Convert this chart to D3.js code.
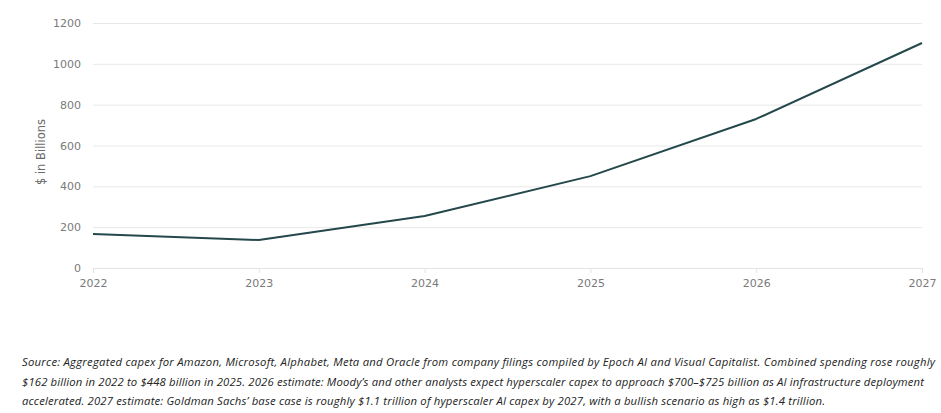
<!DOCTYPE html>
<html>
<head>
<meta charset="utf-8">
<script src="https://cdn.jsdelivr.net/npm/d3@7"></script>
<style>
  body { margin: 0; background: #fff; }
  svg { display: block; font-family: "Open Sans", sans-serif; }
</style>
</head>
<body>
<svg id="chart" width="941" height="413"></svg>
<script>
// hyperscaler capex, $ in billions
const years = [2022, 2023, 2024, 2025, 2026, 2027];
const capex = [166, 137, 255, 450, 730, 1102];
const yTicks = [0, 200, 400, 600, 800, 1000, 1200];
const sourceLines = [
    "Source: Aggregated capex for Amazon, Microsoft, Alphabet, Meta and Oracle from company filings compiled by Epoch AI and Visual Capitalist. Combined spending rose roughly",
    "$162 billion in 2022 to $448 billion in 2025. 2026 estimate: Moody’s and other analysts expect hyperscaler capex to approach $700–$725 billion as AI infrastructure deployment",
    "accelerated. 2027 estimate: Goldman Sachs’ base case is roughly $1.1 trillion of hyperscaler AI capex by 2027, with a bullish scenario as high as $1.4 trillion."
];
// rough widths of each note line in the picture
const sourceWidths = [913, 902, 803];

const data = years.map((y, i) => ({year: y, value: capex[i]}));

const margin = {top: 23, right: 19, bottom: 145, left: 93};
const svg = d3.select("#chart");
const width = +svg.attr("width");
const height = +svg.attr("height");
const tickFont = "DejaVu Sans, sans-serif";

const x = d3.scaleLinear()
    .domain([2022, 2027])
    .range([margin.left, width - margin.right]);

const y = d3.scaleLinear()
    .domain([0, 1200])
    .range([height - margin.bottom, margin.top]);

// grid lines + y labels
const yAxis = svg.append("g")
    .attr("transform", "translate(" + margin.left + ",0)")
    .call(d3.axisLeft(y).tickValues(yTicks).tickFormat(d3.format("d"))
        .tickSize(-(width - margin.left - margin.right)).tickPadding(12));
yAxis.select(".domain").remove();
yAxis.selectAll(".tick line").attr("stroke", "#e8e8e8").attr("stroke-width", 1);
yAxis.selectAll(".tick text")
    .attr("fill", "#7a7a7a")
    .attr("font-size", 11)
    .attr("font-family", tickFont);

// x axis
const xAxis = svg.append("g")
    .attr("transform", "translate(0," + (height - margin.bottom) + ")")
    .call(d3.axisBottom(x).tickValues(years).tickFormat(d3.format("d")).tickSize(5).tickPadding(6));
xAxis.select(".domain").attr("stroke", "#e3e3e3");
xAxis.selectAll(".tick line").attr("stroke", "#e3e3e3");
xAxis.selectAll(".tick text")
    .attr("fill", "#7a7a7a")
    .attr("font-size", 11)
    .attr("font-family", tickFont);

// y axis title
svg.append("text")
    .attr("transform", "translate(45,152) rotate(-90)")
    .attr("text-anchor", "middle")
    .attr("fill", "#6a6a6a")
    .attr("font-size", 11.5)
    .attr("font-family", tickFont)
    .text("$ in Billions");

// the line
const line = d3.line()
    .x(d => x(d.year))
    .y(d => y(d.value));

svg.append("path")
    .datum(data)
    .attr("fill", "none")
    .attr("stroke", "#24484b")
    .attr("stroke-width", 2)
    .attr("stroke-linejoin", "round")
    .attr("d", line);

// source note
svg.append("g")
    .selectAll("text")
    .data(sourceLines)
    .enter()
    .append("text")
    .attr("x", 22)
    .attr("y", (d, i) => 366 + i * 19.5)
    .attr("fill", "#222")
    .attr("font-size", 11.3)
    .attr("font-style", "italic")
    .attr("textLength", (d, i) => sourceWidths[i])
    .attr("lengthAdjust", "spacing")
    .text(d => d);
</script>
</body>
</html>
